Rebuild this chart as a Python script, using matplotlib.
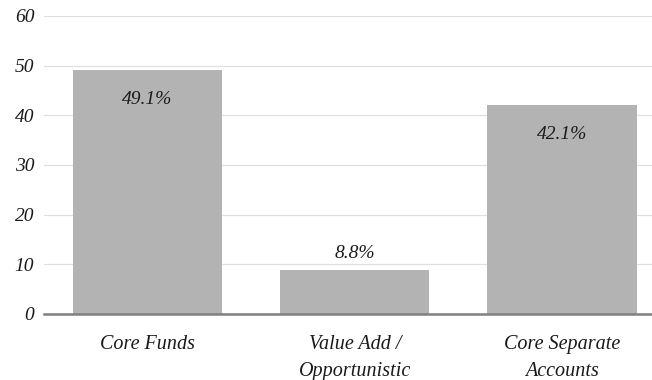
import matplotlib.pyplot as plt

categories = ["Core Funds", "Value Add /\nOpportunistic", "Core Separate\nAccounts"]
shares = [49.1, 8.8, 42.1]
yticks = [0, 10, 20, 30, 40, 50, 60]

plt.rcParams['font.family'] = ['Liberation Serif', 'DejaVu Serif']
plt.rcParams['font.style'] = 'italic'

fig = plt.figure(figsize=(6.52, 3.8), dpi=100)
ax = fig.add_axes([0.0675, 0.1737, 0.9325, 0.7843])

x = range(len(categories))
bars = ax.bar(x, shares, width=0.72, color="#b3b3b3", zorder=2)

# labels sit inside tall bars, above short ones
for bar, v in zip(bars, shares):
    cx = bar.get_x() + bar.get_width() / 2
    if v > 20:
        ax.annotate(f"{v}%", (cx, v), xytext=(0, -21), textcoords="offset points",
                    ha="center", va="center", fontsize=14, color="#1a1a1a")
    else:
        ax.annotate(f"{v}%", (cx, v), xytext=(0, 12), textcoords="offset points",
                    ha="center", va="center", fontsize=14, color="#1a1a1a")

ax.set_xlim(-0.5, 2.434)
ax.set_ylim(0, 60)
ax.set_yticks(yticks)
ax.set_yticklabels([str(t) for t in yticks], fontsize=14, color="#1a1a1a")
ax.set_xticks(list(x))
ax.set_xticklabels(categories, fontsize=14.5, color="#1a1a1a", linespacing=1.55)

ax.grid(axis="y", color="#e0e0e0", linewidth=0.9, zorder=0)
for side in ["top", "right", "left"]:
    ax.spines[side].set_visible(False)
ax.spines["bottom"].set_color("#808080")
ax.spines["bottom"].set_linewidth(1.8)
ax.spines["bottom"].set_zorder(3)
ax.tick_params(axis="both", length=0)
ax.tick_params(axis="y", pad=7)
ax.tick_params(axis="x", pad=15)

fig.savefig("out.png", dpi=100)
